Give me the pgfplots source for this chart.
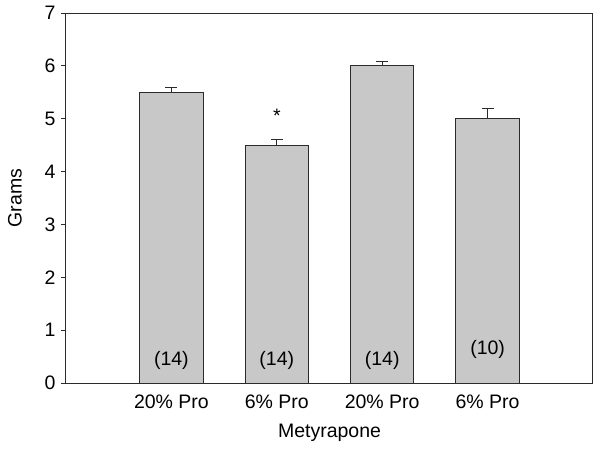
\documentclass[border=0pt]{standalone}
\usepackage{fontspec}
\setmainfont{Liberation Sans}
\usepackage{pgfplots}
\pgfplotsset{compat=1.18}
\definecolor{barfill}{HTML}{C8C8C8}
\definecolor{edge}{HTML}{2B2B2B}
\newcommand{\fs}{\fontsize{19.5}{22}\selectfont}
\begin{document}
\begin{tikzpicture}
\begin{axis}[
  scale only axis,
  width=527pt, height=370pt,
  xmin=0, xmax=5, ymin=0, ymax=7,
  ytick={0,1,2,3,4,5,6,7},
  xtick={1,2,3,4},
  xticklabels={20\% Pro,6\% Pro,20\% Pro,6\% Pro},
  x tick style={draw=none},
  y tick style={draw=edge, line width=1pt},
  tick align=outside,
  ytick pos=left,
  major tick length=5pt,
  axis line style={draw=edge, line width=1pt},
  ticklabel style={font=\fs},
  /pgf/number format/assume math mode=true,
  xticklabel style={yshift=-3pt},
  yticklabel style={xshift=-2pt},
  every axis y label/.style={at={(axis description cs:-0.097,0.5)}, rotate=90, anchor=center, font=\fs},
  every axis x label/.style={at={(axis description cs:0.5,-0.135)}, anchor=center, font=\fs},
  ylabel={Grams},
  xlabel={Metyrapone},
  clip=false,
]
\addplot[ybar, bar width=0.6, fill=barfill, draw=edge, line width=1pt,
  error bars/.cd, y dir=plus, y explicit, error mark=|,
  error bar style={draw=edge, line width=1pt},
  error mark options={draw=edge, mark size=6pt, line width=1pt}]
  coordinates {
  (1,5.50) +- (0,0.10)
  (2,4.50) +- (0,0.11)
  (3,6.00) +- (0,0.09)
  (4,5.00) +- (0,0.20)
};
\node[anchor=base, font=\fs] at (axis cs:2,4.93) {*};
\node[anchor=base, font=\fs] at (axis cs:1,0.33) {(14)};
\node[anchor=base, font=\fs] at (axis cs:2,0.33) {(14)};
\node[anchor=base, font=\fs] at (axis cs:3,0.33) {(14)};
\node[anchor=base, font=\fs] at (axis cs:4,0.535) {(10)};
\end{axis}
\pgfresetboundingbox
\path[use as bounding box] (-66pt,-65pt) rectangle (534pt,383pt);
\end{tikzpicture}
\end{document}
